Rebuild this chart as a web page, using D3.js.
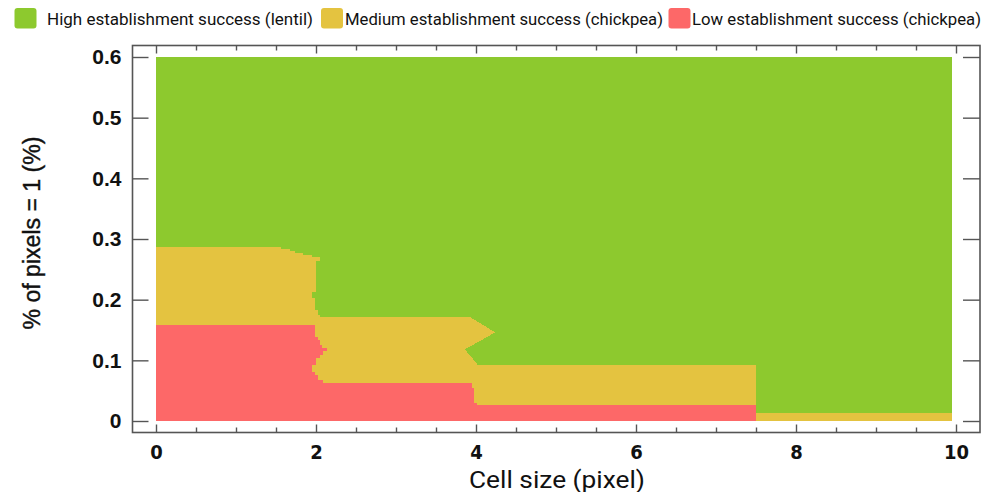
<!DOCTYPE html>
<html>
<head>
<meta charset="utf-8">
<script src="https://cdn.jsdelivr.net/npm/d3@7"></script>
<style>
  body { margin: 0; background: #fff; }
  svg { display: block; }
</style>
</head>
<body>
<div id="chart"></div>
<script>
// zones, from top to bottom
const zoneNames = [
  'High establishment success (lentil)',
  'Medium establishment success (chickpea)',
  'Low establishment success (chickpea)'
];
const zoneColors = ['#8dc92e', '#e4c340', '#fd6868'];

// extent of the map
const cellSizeMax = 9.95;
const percentMax = 0.6;

// upper edge of the medium zone (traced left to right)
const mediumX = [0, 1.56, 1.56, 1.68, 1.68, 1.74, 1.74, 1.84, 1.84, 1.95, 1.95, 2.05, 2.05, 2.0, 2.0, 1.95,
  1.95, 1.99, 1.99, 2.03, 2.03, 2.05, 2.05, 3.93, 4.24, 3.86, 4.01, 4.01, 7.5, 7.5, 9.95];
const mediumY = [0.286, 0.286, 0.283, 0.283, 0.280, 0.280, 0.277, 0.277, 0.274, 0.274, 0.270, 0.270, 0.263, 0.263, 0.213, 0.213,
  0.202, 0.202, 0.183, 0.183, 0.175, 0.175, 0.171, 0.171, 0.146, 0.118, 0.095, 0.092, 0.092, 0.013, 0.013];

// upper edge of the low zone
const lowX = [0, 1.99, 1.99, 2.02, 2.02, 2.05, 2.05, 2.08, 2.08, 2.14, 2.14, 2.09, 2.09, 2.05, 2.05, 2.0,
  2.0, 1.95, 1.95, 1.99, 1.99, 2.03, 2.03, 2.09, 2.09, 3.95, 3.95, 3.97, 3.97, 4.01, 4.01, 7.5];
const lowY = [0.159, 0.159, 0.139, 0.139, 0.134, 0.134, 0.125, 0.125, 0.120, 0.120, 0.115, 0.115, 0.109, 0.109, 0.104, 0.104,
  0.092, 0.092, 0.081, 0.081, 0.076, 0.076, 0.068, 0.068, 0.062, 0.062, 0.054, 0.054, 0.029, 0.029, 0.026, 0.026];

const xTicks = [0, 2, 4, 6, 8, 10];
const xMinorTicks = [0.5, 1, 1.5, 2.5, 3, 3.5, 4.5, 5, 5.5, 6.5, 7, 7.5, 8.5, 9, 9.5];
const yTicks = [0, 0.1, 0.2, 0.3, 0.4, 0.5, 0.6];

const xTitle = 'Cell size (pixel)';
const yTitle = '% of pixels = 1 (%)';

const width = 990;
const height = 492;
const frame = { left: 132.5, right: 980, top: 45.5, bottom: 432.5 };
const frameColor = '#555';

const svg = d3.select('#chart')
  .append('svg')
  .attr('width', width)
  .attr('height', height)
  .attr('xmlns', 'http://www.w3.org/2000/svg');

const x = d3.scaleLinear().domain([0, 10]).range([156, 956]);
const y = d3.scaleLinear().domain([0, 0.6]).range([421, 57]);

// zones
const polygon = d3.line().x(d => x(d[0])).y(d => y(d[1]));
const mediumPts = [[0, 0]].concat(mediumX.map((v, i) => [v, mediumY[i]]), [[mediumX[mediumX.length - 1], 0]]);
const lowPts = [[0, 0]].concat(lowX.map((v, i) => [v, lowY[i]]), [[lowX[lowX.length - 1], 0]]);

const zones = svg.append('g').attr('class', 'zones').attr('shape-rendering', 'crispEdges');
zones.append('rect')
  .attr('x', x(0))
  .attr('y', y(percentMax))
  .attr('width', x(cellSizeMax) - x(0))
  .attr('height', y(0) - y(percentMax))
  .attr('fill', zoneColors[0]);
zones.append('path')
  .attr('d', polygon(mediumPts) + 'Z')
  .attr('fill', zoneColors[1]);
zones.append('path')
  .attr('d', polygon(lowPts) + 'Z')
  .attr('fill', zoneColors[2]);

// frame
svg.append('rect')
  .attr('class', 'frame')
  .attr('x', frame.left)
  .attr('y', frame.top)
  .attr('width', frame.right - frame.left)
  .attr('height', frame.bottom - frame.top)
  .attr('fill', 'none')
  .attr('stroke', frameColor)
  .attr('stroke-width', 1.6);

function styleAxis(g) {
  g.select('.domain').remove();
  g.selectAll('line').attr('stroke', frameColor).attr('stroke-width', 1.4);
}

// x axes (bottom with labels, top mirrored)
svg.append('g')
  .attr('class', 'x-axis')
  .attr('transform', `translate(0, ${frame.bottom})`)
  .call(d3.axisBottom(x).tickValues(xTicks).tickSizeInner(-8).tickSizeOuter(0).tickPadding(12).tickFormat(d3.format('d')))
  .call(styleAxis)
  .selectAll('text')
  .attr('font-family', '"Liberation Sans Narrow", "DejaVu Sans Condensed", "Liberation Sans", sans-serif')
  .attr('font-weight', 700)
  .attr('font-size', 20)
  .attr('fill', '#111');
svg.append('g')
  .attr('class', 'x-axis-minor')
  .attr('transform', `translate(0, ${frame.bottom})`)
  .call(d3.axisBottom(x).tickValues(xMinorTicks).tickSizeInner(-5).tickSizeOuter(0).tickFormat(''))
  .call(styleAxis);
svg.append('g')
  .attr('class', 'x-axis-top')
  .attr('transform', `translate(0, ${frame.top})`)
  .call(d3.axisTop(x).tickValues(xTicks).tickSizeInner(-8).tickSizeOuter(0).tickFormat(''))
  .call(styleAxis);
svg.append('g')
  .attr('class', 'x-axis-top-minor')
  .attr('transform', `translate(0, ${frame.top})`)
  .call(d3.axisTop(x).tickValues(xMinorTicks).tickSizeInner(-5).tickSizeOuter(0).tickFormat(''))
  .call(styleAxis);

// y axes
svg.append('g')
  .attr('class', 'y-axis')
  .attr('transform', `translate(${frame.left}, 0)`)
  .call(d3.axisLeft(y).tickValues(yTicks).tickSizeInner(-16).tickSizeOuter(0).tickPadding(11)
    .tickFormat(d => d === 0 ? '0' : d3.format('.1f')(d)))
  .call(styleAxis)
  .selectAll('text')
  .attr('font-family', '"Liberation Sans", Arial, sans-serif')
  .attr('font-weight', 700)
  .attr('font-size', 21)
  .attr('fill', '#111');
svg.append('g')
  .attr('class', 'y-axis-right')
  .attr('transform', `translate(${frame.right}, 0)`)
  .call(d3.axisRight(y).tickValues(yTicks).tickSizeInner(-17).tickSizeOuter(0).tickFormat(''))
  .call(styleAxis);

// titles
svg.append('text')
  .attr('class', 'x-title')
  .attr('x', 557)
  .attr('y', 487.5)
  .attr('text-anchor', 'middle')
  .attr('font-family', 'Roboto, "Noto Sans", sans-serif')
  .attr('font-size', 23)
  .attr('fill', '#111')
  .attr('textLength', 176)
  .attr('lengthAdjust', 'spacingAndGlyphs')
  .text(xTitle);
svg.append('text')
  .attr('class', 'y-title')
  .attr('transform', 'translate(32, 233) rotate(-90)')
  .attr('text-anchor', 'middle')
  .attr('dy', '0.35em')
  .attr('font-family', '"Liberation Sans", Arial, sans-serif')
  .attr('font-size', 23)
  .attr('fill', '#111')
  .attr('stroke', '#111')
  .attr('stroke-width', 0.4)
  .attr('textLength', 193)
  .attr('lengthAdjust', 'spacingAndGlyphs')
  .text(yTitle);

// legend
const legendItems = [
  { sx: 14.5, tx: 47, tw: 266 },
  { sx: 321, tx: 345, tw: 318 },
  { sx: 668.5, tx: 692, tw: 289 }
];
const legend = svg.append('g').attr('class', 'legend');
zoneNames.forEach((name, i) => {
  const item = legendItems[i];
  legend.append('rect')
    .attr('x', item.sx)
    .attr('y', 8)
    .attr('width', 22)
    .attr('height', 20.5)
    .attr('rx', 3)
    .attr('fill', zoneColors[i]);
  legend.append('text')
    .attr('x', item.tx)
    .attr('y', 25)
    .attr('font-family', 'Roboto, "Noto Sans", sans-serif')
    .attr('font-size', 17)
    .attr('fill', '#111')
    .attr('textLength', item.tw)
    .attr('lengthAdjust', 'spacingAndGlyphs')
    .text(name);
});
</script>
</body>
</html>
